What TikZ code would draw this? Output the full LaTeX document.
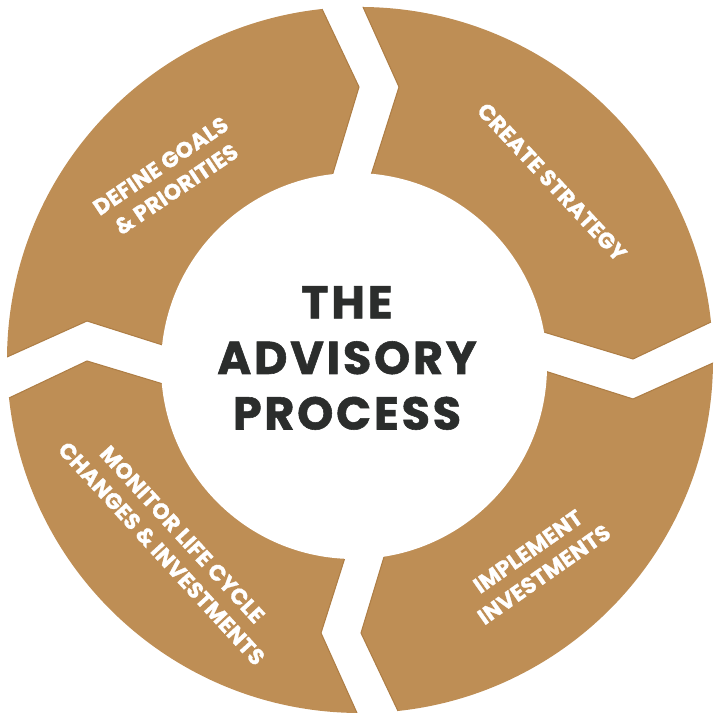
\documentclass[tikz,border=0pt]{standalone}
\usepackage{fontspec}
\setmainfont{Poppins}
\newfontfamily\headfont{Poppins}[BoldFeatures={FakeBold=1.2,LetterSpace=6}]
\newfontfamily\stepfont{Poppins}[BoldFeatures={FakeBold=1.2,LetterSpace=1}]
\usepackage{tikz}
\definecolor{advgold}{HTML}{BE8E55}
\definecolor{advedge}{HTML}{AE7E46}
\definecolor{advdark}{HTML}{2B2D2C}

\begin{document}
\begin{tikzpicture}[ringpart/.style={fill=advgold,draw=advedge,line width=0.3pt},
		steplabel/.style={text=white,font=\stepfont\bfseries\fontsize{6.3}{8}\selectfont,align=center},
		headline/.style={text=advdark,font=\headfont\bfseries\fontsize{13.1}{15.8}\selectfont,align=center}]
			\useasboundingbox (-3.6,-3.6) rectangle (3.6,3.6);
			\begin{scope}
				\clip (0,0) circle (3.53);
				\fill[ringpart,rotate=0] (-0.15,3.93) -- (0.39,2.73) -- (-0.015,1.455) -- (0.3,0.3) -- (1.44,0.40) -- (2.73,0.01) -- (3.90,0.565) -- (4.5,4.5) -- cycle;
				\fill[ringpart,rotate=-90] (-0.15,3.93) -- (0.39,2.73) -- (-0.015,1.455) -- (0.3,0.3) -- (1.44,0.40) -- (2.73,0.01) -- (3.90,0.565) -- (4.5,4.5) -- cycle;
				\fill[ringpart,rotate=-180] (-0.15,3.93) -- (0.39,2.73) -- (-0.015,1.455) -- (0.3,0.3) -- (1.44,0.40) -- (2.73,0.01) -- (3.90,0.565) -- (4.5,4.5) -- cycle;
				\fill[ringpart,rotate=-270] (-0.15,3.93) -- (0.39,2.73) -- (-0.015,1.455) -- (0.3,0.3) -- (1.44,0.40) -- (2.73,0.01) -- (3.90,0.565) -- (4.5,4.5) -- cycle;
			\end{scope}
			\fill[white] (-0.06,-0.06) circle (1.93);

			\node[headline] (process) at (-0.13,0.02) {THE\\ADVISORY\\PROCESS};
			\node[steplabel,rotate=34] (goals) at (-1.915,1.825) {DEFINE GOALS\\\& PRIORITIES};
			\node[steplabel,rotate=-47] (strategy) at (1.92,1.78) {CREATE STRATEGY};
			\node[steplabel,rotate=35] (implement) at (1.76,-2.03) {IMPLEMENT\\INVESTMENTS};
			\node[steplabel,rotate=-47.5] (monitor) at (-1.88,-1.84) {MONITOR LIFE CYCLE\\CHANGES \& INVESTMENTS};
\end{tikzpicture}
\end{document}
